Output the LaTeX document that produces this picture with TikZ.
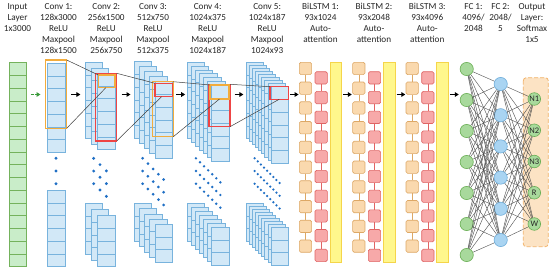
\documentclass[tikz,border=0pt]{standalone}
\usepackage{fontspec}
\setmainfont{Carlito}
\usetikzlibrary{arrows.meta,calc}
\definecolor{txt}{HTML}{262626}
\definecolor{cfill}{HTML}{D2E8F7}
\definecolor{cdraw}{HTML}{78B3DD}
\definecolor{gfill}{HTML}{C9EDC9}
\definecolor{gdraw}{HTML}{74B25C}
\definecolor{hor}{HTML}{F2AC3C}
\definecolor{hred}{HTML}{EE4545}
\definecolor{dotc}{HTML}{1F6FC5}
\definecolor{ofill}{HTML}{FAD9AE}
\definecolor{odraw}{HTML}{DDA866}
\definecolor{rfill}{HTML}{F7A9A9}
\definecolor{rdraw}{HTML}{E06464}
\definecolor{yfill}{HTML}{FFF78C}
\definecolor{ydraw}{HTML}{F5D54A}
\definecolor{fcg}{HTML}{A8D99C}
\definecolor{fcgd}{HTML}{6AAF55}
\definecolor{fcb}{HTML}{A9D4F2}
\definecolor{fcbd}{HTML}{6FAEDB}
\definecolor{outf}{HTML}{FCE3C4}
\definecolor{outd}{HTML}{F2B36A}
\definecolor{arrg}{HTML}{3A9A3A}

\newcommand{\ccol}[3]{%
  \pgfmathsetmacro\cx{#1}\pgfmathsetmacro\cy{#2}\pgfmathtruncatemacro\cm{#3-1}%
  \draw[convcol] (\cx,\cy) rectangle ++(17.3,{#3*12.7});%
  \foreach \k in {1,...,\cm}{\draw[convline] (\cx,{\cy+\k*12.7}) -- ++(17.3,0);}%
}
\newcommand{\cstack}[6]{%
  \pgfmathtruncatemacro\sn{#3-1}%
  \foreach \j in {0,...,\sn}{\ccol{#1+\j*#4}{#2+\j*#5}{#6}}%
}
\newcommand{\convdots}[5]{%
  \pgfmathtruncatemacro\dn{#2-1}%
  \foreach \j in {0,...,\dn}{\foreach \i in {0,1,2}{\fill[dotc] ({#1+\j*#3},{158.3+\j*#4+\i*12.7}) circle (#5);}}%
}

\begin{document}
\begin{tikzpicture}[x=1pt,y=-1pt,
  lbl/.style={font=\fontsize{9.2}{11}\selectfont, text=txt, align=center, anchor=north, inner sep=0pt},
  convcol/.style={fill=cfill, draw=cdraw, line width=0.6pt},
  convline/.style={draw=cdraw, line width=0.6pt},
  incol/.style={fill=gfill, draw=gdraw, line width=0.7pt},
  hbox/.style={draw, line width=1.1pt, inner sep=0pt, outer sep=0pt, anchor=north west, fill=none},
  zline/.style={draw=black!75, line width=0.5pt},
  larrow/.style={draw=black, line width=1.3pt, -{Triangle[length=4pt,width=4.6pt]}},
  garrow/.style={draw=arrg, line width=1.3pt, dash pattern=on 3pt off 1.2pt, -{Triangle[length=4pt,width=4.6pt]}},
  osq/.style={draw=odraw, fill=ofill, line width=0.6pt, rounded corners=1.5pt, minimum size=12.3pt, inner sep=0pt},
  rsq/.style={draw=rdraw, fill=rfill, line width=0.6pt, rounded corners=1.5pt, minimum size=12.3pt, inner sep=0pt},
  ochain/.style={draw=odraw, line width=0.6pt},
  rchain/.style={draw=rdraw, line width=0.6pt},
  ybar/.style={draw=ydraw, fill=yfill, line width=0.8pt},
  gcirc/.style={circle, draw=fcgd, fill=fcg, line width=0.6pt, minimum size=13.2pt, inner sep=0pt},
  bcirc/.style={circle, draw=fcbd, fill=fcb, line width=0.6pt, minimum size=13.2pt, inner sep=0pt},
  ocirc/.style={circle, draw=fcgd, fill=fcg, line width=0.6pt, minimum size=12.6pt, inner sep=0pt, font=\fontsize{8.5}{9}\selectfont, text=txt},
  fcline/.style={draw=black!70, line width=0.4pt},
  outbox/.style={draw=outd, fill=outf, line width=0.8pt, dash pattern=on 4pt off 2pt, rounded corners=3pt}
]
\fill[white] (0,0) rectangle (550,271);
\useasboundingbox (0,0) rectangle (550,271);

% labels
\node[lbl] (Lin) at (17.5,3) {Input\\Layer\\1x3000};
\node[lbl] (Lc1) at (58.5,3) {Conv 1:\\128x3000\\ReLU\\Maxpool\\128x1500};
\node[lbl] (Lc2) at (106.3,3) {Conv 2:\\256x1500\\ReLU\\Maxpool\\256x750};
\node[lbl] (Lc3) at (153,3) {Conv 3:\\512x750\\ReLU\\Maxpool\\512x375};
\node[lbl] (Lc4) at (207.7,3) {Conv 4:\\1024x375\\ReLU\\Maxpool\\1024x187};
\node[lbl] (Lc5) at (267.2,3) {Conv 5:\\1024x187\\ReLU\\Maxpool\\1024x93};
\node[lbl] (Lb1) at (320.5,3) {BiLSTM 1:\\93x1024\\Auto-\\attention};
\node[lbl] (Lb2) at (374,3) {BiLSTM 2:\\93x2048\\Auto-\\attention};
\node[lbl] (Lb3) at (427.3,3) {BiLSTM 3:\\93x4096\\Auto-\\attention};
\node[lbl] (Lf1) at (473.5,3) {FC 1:\\4096/\\2048};
\node[lbl] (Lf2) at (500.5,3) {FC 2:\\2048/\\5};
\node[lbl] (Lout) at (532,3) {Output\\Layer:\\Softmax\\1x5};

% input column
\draw[incol] (9,62.7) rectangle (26.5,266.7);
\foreach \k in {1,...,15}{\draw[draw=gdraw, line width=0.7pt] (9,{62.7+\k*12.75}) -- (26.5,{62.7+\k*12.75});}

% conv stacks
\cstack{47.7}{63.3}{1}{0}{0}{7}
\cstack{47.7}{190.3}{1}{0}{0}{6}
\cstack{85}{62.3}{3}{6.35}{5.5}{6}
\cstack{85}{203.3}{3}{6.35}{6.2}{4}
\cstack{134}{61.7}{5}{5.25}{5}{6}
\cstack{134}{203.3}{5}{5.25}{5.25}{3}
\cstack{187.3}{62.3}{7}{4.07}{3.8}{6}
\cstack{187.3}{203.3}{7}{4.07}{4}{3}
\cstack{246}{62.3}{9}{3.12}{3.05}{6}
\cstack{246}{203.3}{9}{3.12}{3}{3}

% dots
\convdots{56}{1}{0}{0}{1.6}
\convdots{93.65}{3}{6.35}{6.3}{1.6}
\convdots{142.65}{5}{5.25}{5.3}{1.5}
\convdots{195.95}{7}{4.07}{4}{1.35}
\convdots{254.65}{9}{3.12}{3.1}{1.25}

% highlight boxes
\node[hbox, draw=hor, minimum width=21.4pt, minimum height=68.3pt] (O1) at (45.3,60) {};
\node[hbox, draw=hred, minimum width=21pt, minimum height=67.7pt] (R2) at (95.7,73.3) {};
\node[hbox, draw=hor, minimum width=16.7pt, minimum height=12.7pt] (o2) at (98.3,75) {};
\node[hbox, draw=hor, minimum width=20.6pt, minimum height=55pt] (O3) at (152.7,81.7) {};
\node[hbox, draw=hred, minimum width=17.3pt, minimum height=13.4pt] (r3) at (155,83.3) {};
\node[hbox, draw=hred, minimum width=21pt, minimum height=42.4pt] (R4) at (209,84.3) {};
\node[hbox, draw=hor, minimum width=19pt, minimum height=14pt] (o4) at (210,85) {};
\node[hbox, draw=hred, minimum width=18.3pt, minimum height=12.6pt] (r5) at (270,86.7) {};

% zoom lines
\draw[zline] (O1.north east) -- (o2.north west);
\draw[zline] (O1.south east) -- ($(o2.south west)!0.45!(o2.south east)$);
\draw[zline] (R2.north east) -- (r3.north west);
\draw[zline] (R2.south east) -- ($(r3.south west)!0.38!(r3.south east)$);
\draw[zline] (O3.north east) -- (o4.north west);
\draw[zline] (O3.south east) -- ($(o4.south west)!0.5!(o4.south east)$);
\draw[zline] (R4.north east) -- (r5.north west);
\draw[zline] (R4.south east) -- ($(r5.south west)!0.5!(r5.south east)$);

% layer arrows
\coordinate (a0s) at (30.7,94.5); \coordinate (a0e) at (40.5,94.5);
\coordinate (a1s) at (71.2,94.5); \coordinate (a1e) at (80.4,94.5);
\coordinate (a2s) at (121.5,94.5); \coordinate (a2e) at (130.5,94.5);
\coordinate (a3s) at (176,94.5); \coordinate (a3e) at (185.2,94.5);
\coordinate (a4s) at (234.5,94.5); \coordinate (a4e) at (243.4,94.5);
\coordinate (a5s) at (290,94.5); \coordinate (a5e) at (298.6,94.5);
\coordinate (a6s) at (343.3,94.5); \coordinate (a6e) at (351.8,94.5);
\coordinate (a7s) at (396.7,94.5); \coordinate (a7e) at (405.3,94.5);
\coordinate (a8s) at (450,94.5); \coordinate (a8e) at (458.8,94.5);
\draw[garrow] (a0s) -- (a0e);
\foreach \a in {1,...,8}{\draw[larrow] (a\a s) -- (a\a e);}

% BiLSTM blocks
\foreach \g in {0,1,2}{
  \pgfmathsetmacro\xo{299.3+\g*53.35+6.15}
  \pgfmathsetmacro\xr{315+\g*53.35+6.15}
  \pgfmathsetmacro\xy{330+\g*53.35}
  \draw[ybar] (\xy,62.3) rectangle ++(11.7,200);
  \foreach \k in {0,...,9}{
    \node[osq] (o\g-\k) at (\xo,{62.3+6.15+\k*19.74}) {};
    \node[rsq] (r\g-\k) at (\xr,{71.7+6.15+\k*19.73}) {};
  }
  \foreach \k [evaluate=\k as \kk using int(\k+1)] in {0,...,8}{
    \draw[ochain] (o\g-\k) -- (o\g-\kk);
    \draw[rchain] (r\g-\k) -- (r\g-\kk);
  }
}

% output box
\draw[outbox] (523.3,77.7) rectangle (548.3,246.7);

% FC layers
\foreach \k in {0,...,6}{\node[gcirc] (f1-\k) at (466.7,{69+31*\k}) {};}
\foreach \k in {0,...,5}{\node[bcirc] (f2-\k) at (500.7,{84+31.2*\k}) {};}
\foreach \t [count=\k from 0] in {N1,N2,N3,R,W}{\node[ocirc] (out-\k) at (534.3,{99+31.25*\k}) {\t};}
\foreach \a in {0,...,6}{\foreach \b in {0,...,5}{\draw[fcline] (f1-\a) -- (f2-\b);}}
\foreach \a in {0,...,5}{\foreach \b in {0,...,4}{\draw[fcline] (f2-\a) -- (out-\b);}}
\end{tikzpicture}
\end{document}
